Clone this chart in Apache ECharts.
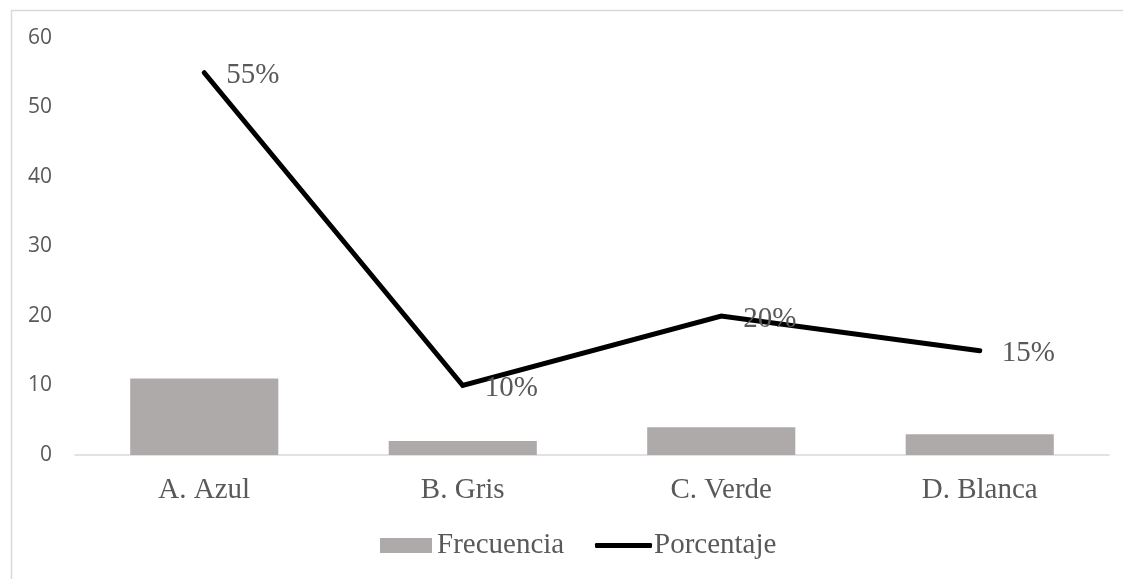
<!DOCTYPE html>
<html>
<head>
<meta charset="utf-8">
<script src="https://cdn.jsdelivr.net/npm/echarts@6/dist/echarts.min.js"></script>
<style>
  html, body { margin: 0; padding: 0; background: #fff; }
  #chart { width: 1123px; height: 579px; }
</style>
</head>
<body>
<div id="chart"></div>
<script>
// Categories and values
const categories = ['A. Azul', 'B. Gris', 'C. Verde', 'D. Blanca'];
const frecuencia = [11, 2, 4, 3];
const porcentaje = [55, 10, 20, 15];
const yTicks = { min: 0, max: 60, interval: 10 };

const serif = '"Liberation Serif", "Times New Roman", serif';
const sans = '"Open Sans", "Noto Sans", sans-serif';
const textColor = '#595959';

const chart = echarts.init(document.getElementById('chart'), null, { renderer: 'canvas' });

chart.setOption({
  animation: false,
  backgroundColor: '#ffffff',
  graphic: [{
    type: 'rect',
    z: -10,
    silent: true,
    shape: { x: 11.5, y: 10.5, width: 1200, height: 700 },
    style: { fill: 'none', stroke: '#d9d9d9', lineWidth: 1.5 }
  }],
  grid: { left: 75, right: 14, top: 38, bottom: 124, containLabel: false },
  legend: [{
    data: [{ name: 'Frecuencia', icon: 'rect' }],
    left: 380, top: 531, padding: 0,
    itemWidth: 52, itemHeight: 15,
    textStyle: { fontFamily: serif, fontSize: 29, color: textColor }
  }, {
    data: [{ name: 'Porcentaje', icon: 'roundRect' }],
    left: 595, top: 531, padding: 0,
    itemWidth: 57, itemHeight: 5,
    textStyle: { fontFamily: serif, fontSize: 29, color: textColor, padding: [0, 0, 0, -3] }
  }],
  xAxis: {
    type: 'category',
    data: categories,
    axisLine: { lineStyle: { color: '#d9d9d9', width: 1.5 } },
    axisTick: { show: false },
    axisLabel: { fontFamily: serif, fontSize: 29, color: textColor, margin: 21 }
  },
  yAxis: {
    type: 'value',
    min: yTicks.min, max: yTicks.max, interval: yTicks.interval,
    axisLine: { show: false },
    axisTick: { show: false },
    splitLine: { show: false },
    axisLabel: { fontFamily: sans, fontSize: 21, color: textColor, margin: 23 }
  },
  series: [{
    name: 'Frecuencia',
    type: 'bar',
    data: frecuencia,
    barWidth: '57.3%',
    itemStyle: { color: '#aeaaaa' }
  }, {
    name: 'Porcentaje',
    type: 'line',
    data: porcentaje,
    color: '#000000',
    showSymbol: true,
    symbol: 'circle',
    symbolSize: 0,
    lineStyle: { color: '#000000', width: 5, cap: 'round', join: 'miter' },
    itemStyle: { color: '#000000' },
    label: {
      show: true,
      position: 'right',
      distance: 22,
      offset: [0, 3],
      formatter: (p) => p.value + '%',
      fontFamily: serif,
      fontSize: 29,
      color: textColor
    },
    z: 3
  }]
});
</script>
</body>
</html>
